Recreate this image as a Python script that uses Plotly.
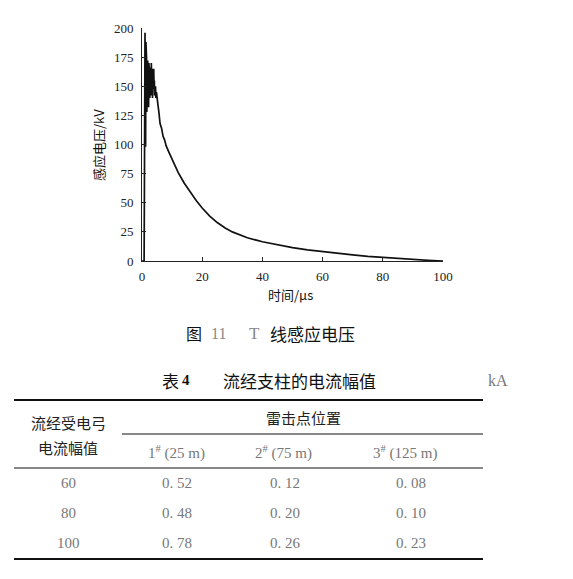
import plotly.graph_objects as go

# ---- chart data ----
time_us = [0, 0.7, 0.8, 0.9, 1.0, 1.1, 1.2, 1.3, 1.4, 1.5, 1.6, 1.7, 1.8, 1.9, 2.0,
           2.1, 2.2, 2.3, 2.4, 2.5, 2.6, 2.7, 2.8, 2.9, 3.0, 3.1, 3.2, 3.3, 3.4, 3.5,
           3.6, 3.7, 3.8, 3.9, 4.0, 4.1, 4.2, 4.3, 4.4, 4.5, 4.6, 4.8, 5.0,
           5.3, 5.6, 6.0, 6.5, 7.0, 7.5, 8.0, 9, 10, 12, 14, 16, 18, 20, 22.5, 25,
           27.5, 30, 35, 40, 45, 50, 55, 60, 65, 70, 75, 80, 85, 90, 95, 100]
voltage_kv = [0, 0, 60, 160, 196, 140, 98, 188, 150, 175, 128, 168, 145, 172, 150,
              162, 132, 170, 148, 158, 140, 166, 152, 160, 142, 170, 155, 150, 165, 140,
              160, 152, 148, 165, 150, 155, 142, 152, 146, 150, 140, 145, 138,
              134, 128, 118, 114, 107, 104, 99, 93, 87, 76, 67, 59, 52, 45.5, 38.5, 33,
              28.5, 25, 20, 16.5, 13.8, 11.5, 9.6, 8, 6.5, 5.2, 4, 3, 2.2, 1.3, 0.6, 0]

x_ticks = [0, 20, 40, 60, 80, 100]
y_ticks = [0, 25, 50, 75, 100, 125, 150, 175, 200]

# ---- table data ----
row_labels = ["60", "80", "100"]
col_labels = ["1<sup>#</sup> (25 m)", "2<sup>#</sup> (75 m)", "3<sup>#</sup> (125 m)"]
col1 = ["0. 52", "0. 48", "0. 78"]
col2 = ["0. 12", "0. 20", "0. 26"]
col3 = ["0. 08", "0. 10", "0. 23"]

W, H = 573, 579
L, R, T, B = 142, 443, 28, 261
PW, PH = R - L, B - T

def px(x):
    return (x - L) / PW

def py(y):
    return (B - y) / PH

SERIF = "Liberation Serif"
CJK = "Noto Sans CJK SC"

fig = go.Figure()
fig.add_trace(go.Scatter(x=time_us, y=voltage_kv, mode="lines",
                         line=dict(color="#111", width=1.7), showlegend=False,
                         hoverinfo="skip"))

fig.update_layout(
    width=W, height=H,
    margin=dict(l=L, r=W - R, t=T, b=H - B),
    paper_bgcolor="white", plot_bgcolor="white",
    xaxis=dict(range=[0, 100], tickvals=x_ticks, ticks="inside", ticklen=4,
               tickcolor="#222", showline=True, linecolor="#222", linewidth=1,
               showgrid=False, zeroline=False, ticklabelstandoff=3,
               tickfont=dict(family=SERIF, size=13, color="#222")),
    yaxis=dict(range=[0, 200], tickvals=y_ticks, ticks="inside", ticklen=4,
               tickcolor="#222", showline=True, linecolor="#222", linewidth=1,
               showgrid=False, zeroline=False, ticklabelstandoff=5,
               tickfont=dict(family=SERIF, size=13, color="#222")),
)

ann = []

def text(x, y, s, size=14, color="#222", family=CJK, angle=0, xanchor="center"):
    ann.append(dict(x=px(x), y=py(y), xref="paper", yref="paper", text=s,
                    showarrow=False, xanchor=xanchor, yanchor="middle",
                    textangle=angle, font=dict(family=family, size=size, color=color)))

# axis titles
text(290, 294, "时间/μs", size=13, color="#111")
text(98, 145, "感应电压/kV", size=13, color="#111", angle=-90)

# figure caption
text(194, 333, "图", size=16, color="#111")
text(218, 333, "11", size=16, color="#888", family=SERIF)
text(254, 333, "T", size=17, color="#888", family=SERIF)
text(312, 333, "线感应电压", size=17, color="#111")

# table title
text(170, 380, "表", size=17, color="#111")
text(186, 380, "<b>4</b>", size=15, color="#111", family=SERIF)
text(299, 380, "流经支柱的电流幅值", size=17, color="#111")
text(498, 380, "kA", size=16, color="#777", family=SERIF)

# header
text(68, 423, "流经受电弓", size=15)
text(68, 447, "电流幅值", size=15)
text(303, 417, "雷击点位置", size=15)
col_x = [176, 283, 405]
for cx, lab in zip(col_x, col_labels):
    text(cx, 452, lab, size=15, color="#777", family=SERIF)

row_y = [483, 513, 543]
for ry, rl, a, b, c in zip(row_y, row_labels, col1, col2, col3):
    text(68, ry, rl, size=15, color="#777", family=SERIF)
    text(177, ry, a, size=15, color="#777", family=SERIF)
    text(285, ry, b, size=15, color="#777", family=SERIF)
    text(411, ry, c, size=15, color="#777", family=SERIF)

fig.update_layout(annotations=ann)

shapes = []

def hline(x0, x1, y, w):
    shapes.append(dict(type="line", xref="paper", yref="paper",
                       x0=px(x0), x1=px(x1), y0=py(y), y1=py(y),
                       line=dict(color="#111", width=w)))

hline(14, 483, 400, 2.2)
hline(122, 483, 434, 1.2)
hline(14, 483, 468, 1.2)
hline(14, 483, 559, 2.2)
fig.update_layout(shapes=shapes)

fig.write_html("out.html")
